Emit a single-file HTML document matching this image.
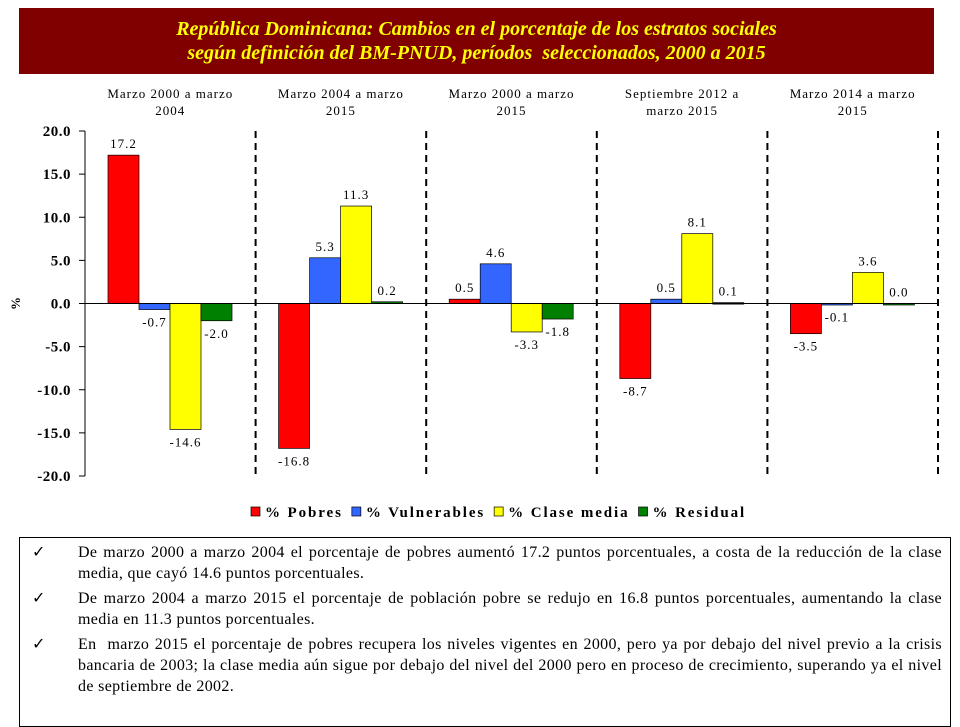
<!DOCTYPE html>
<html><head><meta charset="utf-8"><style>
body{margin:0;width:960px;height:720px;background:#fff;position:relative;overflow:hidden;font-family:"Liberation Serif",serif}
#title{position:absolute;left:19px;top:8px;width:915px;height:66px;background:#800000;color:#ffff00;font-weight:bold;font-style:italic;font-size:20px;text-align:center;line-height:24px;box-sizing:border-box;padding-top:9px}
#notes{position:absolute;left:19px;top:537px;width:932px;height:190px;border:1px solid #000;box-sizing:border-box;font-size:16px;line-height:21px;letter-spacing:0.35px}
.item{position:relative;padding-left:58px;padding-right:8px;text-align:justify;margin-top:4px}
.item span.ck{position:absolute;left:12px;top:0}
</style></head><body>
<div id="title">República Dominicana: Cambios en el porcentaje de los estratos sociales<br>según definición del BM-PNUD, períodos &nbsp;seleccionados, 2000 a 2015</div>
<svg id="chart" width="960" height="530" style="position:absolute;left:0;top:0"></svg>
<div id="notes">
<div class="item"><span class="ck">✓</span>De marzo 2000 a marzo 2004 el porcentaje de pobres aumentó 17.2 puntos porcentuales, a costa de la reducción de la clase media, que cayó 14.6 puntos porcentuales.</div>
<div class="item"><span class="ck">✓</span>De marzo 2004 a marzo 2015 el porcentaje de población pobre se redujo en 16.8 puntos porcentuales, aumentando la clase media en 11.3 puntos porcentuales.</div>
<div class="item"><span class="ck">✓</span>En &nbsp;marzo 2015 el porcentaje de pobres recupera los niveles vigentes en 2000, pero ya por debajo del nivel previo a la crisis bancaria de 2003; la clase media aún sigue por debajo del nivel del 2000 pero en proceso de crecimiento, superando ya el nivel de septiembre de 2002.</div>
</div>
<script>
const categories=[["Marzo 2000 a marzo","2004"],["Marzo 2004 a marzo","2015"],["Marzo 2000 a marzo","2015"],["Septiembre 2012 a","marzo 2015"],["Marzo 2014 a marzo","2015"]];
const seriesNames=["% Pobres","% Vulnerables","% Clase media","% Residual"];
const pobres=[17.2,-16.8,0.5,-8.7,-3.5];
const vulnerables=[-0.7,5.3,4.6,0.5,-0.1];
const claseMedia=[-14.6,11.3,-3.3,8.1,3.6];
const residual=[-2.0,0.2,-1.8,0.1,0.0];
const yTicks=[20,15,10,5,0,-5,-10,-15,-20];
const colors=["#ff0000","#3366ff","#ffff00","#008000"];
const series=[pobres,vulnerables,claseMedia,residual];
const svg=document.getElementById('chart');const NS="http://www.w3.org/2000/svg";
const x0=85,x1=938,yTop=131,yBot=476;
const y=v=>yTop+(20-v)/40*(yBot-yTop);
const gw=(x1-x0)/categories.length;
function el(t,a,p){const e=document.createElementNS(NS,t);for(const k in a)e.setAttribute(k,a[k]);(p||svg).appendChild(e);return e;}
function txt(x,yy,s,o){const e=el('text',Object.assign({x:x,y:yy,'font-family':'Liberation Serif, serif','font-size':13,'text-anchor':'middle','letter-spacing':1},o||{}));e.textContent=s;return e;}
let ax=el('line',{x1:x0,y1:yTop,x2:x0,y2:yBot,stroke:'#000'});
yTicks.forEach(v=>{el('line',{x1:x0-6,x2:x0,y1:y(v),y2:y(v),stroke:'#000'});
 let t=txt(x0-14,y(v)+5,v.toFixed(1),{'font-size':15,'font-weight':'bold','text-anchor':'end','letter-spacing':0.5});});
let yt=txt(20,303,'%',{'font-size':13,'font-weight':'bold',transform:'rotate(-90 20 303)'});
const bw=31;
categories.forEach((c,i)=>{const gx=x0+i*gw;
 let l1=txt(gx+gw/2,98,c[0]);
 txt(gx+gw/2,115,c[1]);
 let d=el('line',{x1:gx+gw,x2:gx+gw,y1:yTop,y2:yBot,stroke:'#000','stroke-width':2,'stroke-dasharray':'7,5'});
 series.forEach((s,j)=>{const v=s[i];const bx=gx+23+j*bw;const top=Math.min(y(v),y(0)),h=Math.abs(y(v)-y(0));
  let r=el('rect',{x:bx,y:top,width:bw,height:Math.max(h,1.5),fill:colors[j],stroke:'#000','stroke-width':0.7});
  
  const ly=v>=0?y(v)-7:y(v)+17;let lt=txt(bx+bw/2,ly,v.toFixed(1));});
});
el('line',{x1:x0,x2:x1,y1:y(0),y2:y(0),stroke:'#000'});
let lx=251;const lg=el('g',{});
seriesNames.forEach((n,j)=>{el('rect',{x:lx,y:507,width:9,height:9,fill:colors[j],stroke:'#000','stroke-width':0.7},lg);
 let t=txt(lx+14,517,n,{'font-size':15,'font-weight':'bold','text-anchor':'start','letter-spacing':1.9});lg.appendChild(t);
 lx+=14+t.getComputedTextLength()+9;});
</script>
</body></html>
